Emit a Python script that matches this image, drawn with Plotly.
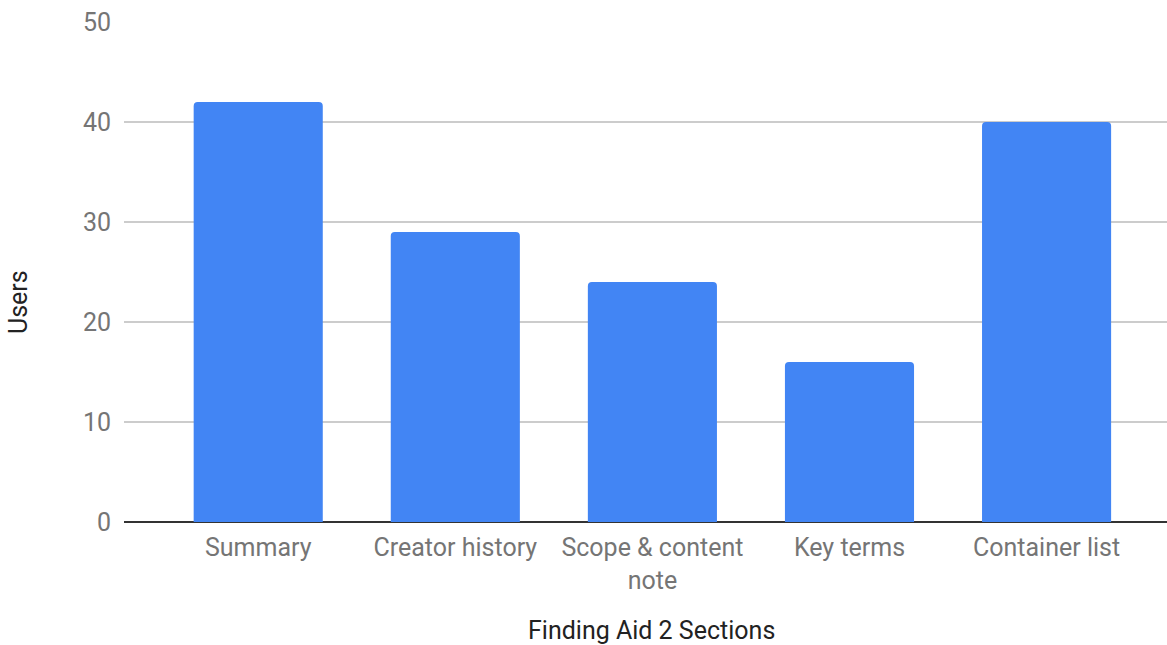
import plotly.graph_objects as go

categories = ["Summary", "Creator history", "Scope & content<br>note", "Key terms", "Container list"]
users = [42, 29, 24, 16, 40]
y_ticks = [0, 10, 20, 30, 40, 50]

FONT = "Roboto"
fig = go.Figure(go.Bar(
    x=list(range(len(categories))), y=users,
    marker=dict(color="#4285F4", line=dict(width=0)),
    width=0.655,
))

fig.update_layout(
    width=1167, height=645,
    margin=dict(l=124, r=0, t=22, b=123),
    plot_bgcolor="white", paper_bgcolor="white",
    showlegend=False,
    barcornerradius=4,
    font=dict(family=FONT, size=25, color="#757575"),
    xaxis=dict(
        tickmode="array", tickvals=list(range(len(categories))), ticktext=categories,
        range=[-0.681, 4.611], showgrid=False, zeroline=False,
        showline=False, ticks="", ticklabelstandoff=8,
        tickfont=dict(family=FONT, size=25, color="#757575"),
    ),
    yaxis=dict(
        range=[0, 50], tickvals=y_ticks, showgrid=True, gridcolor="#cccccc", gridwidth=2,
        zeroline=True, zerolinecolor="#333333", zerolinewidth=2,
        showline=False, ticks="", ticklabelstandoff=12,
        tickfont=dict(family=FONT, size=25, color="#757575"),
    ),
    annotations=[
        dict(text="Finding Aid 2 Sections", xref="paper", yref="paper",
             x=(651 - 124) / 1043, y=-(630 - 522) / 500, xanchor="center", yanchor="middle",
             showarrow=False, font=dict(family=FONT, size=25, color="#222222")),
        dict(text="Users", xref="paper", yref="paper",
             x=(18 - 124) / 1043, y=(522 - 302) / 500, xanchor="center", yanchor="middle",
             textangle=-90, showarrow=False, font=dict(family=FONT, size=25, color="#222222")),
    ],
)

fig.write_html("out.html")
